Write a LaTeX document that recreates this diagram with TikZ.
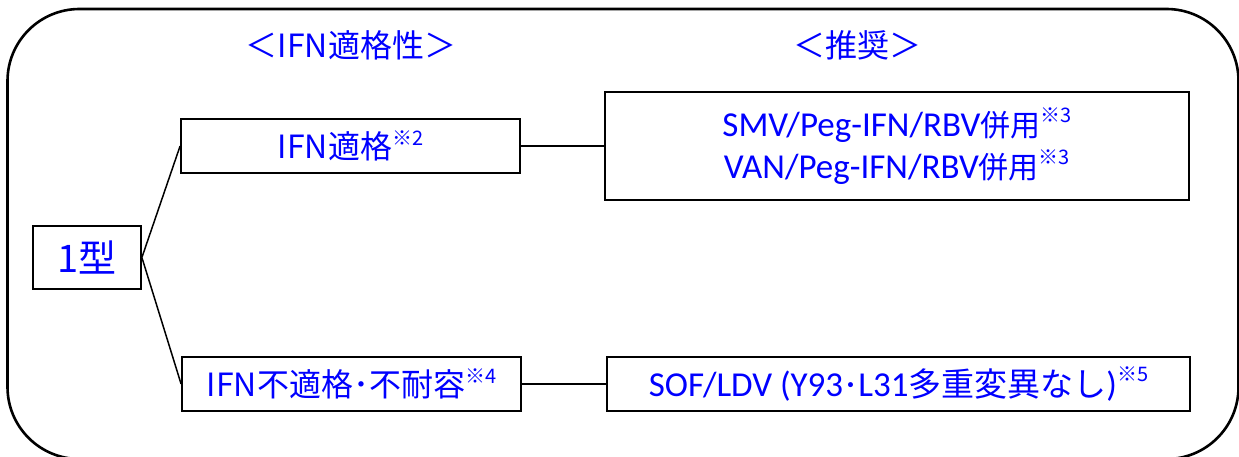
\documentclass[tikz,border=0pt]{standalone}
\usepackage{fontspec}
\setmainfont{Carlito}
\newfontfamily\jp{Noto Sans CJK JP}
\definecolor{txtblue}{RGB}{0,0,255}
\newcommand{\sups}[1]{\raisebox{0.42em}{\jp\fontsize{20}{20}\selectfont ※#1}}
\tikzset{
  box/.style={draw=black, line width=1.8pt, fill=white, inner sep=0pt, text=txtblue, align=center},
  head/.style={inner sep=0pt, text=txtblue, font=\jp\fontsize{32}{32}\selectfont},
  conn/.style={draw=black, line width=1.5pt}
}
\begin{document}
\begin{tikzpicture}[x=1pt,y=-1pt]
\useasboundingbox (0,0) rectangle (1239,457);
\draw[line width=2.6pt, rounded corners=72pt] (7.5,9) rectangle (1238.5,459);
\node[head] (h1) at (351,45) {＜IFN適格性＞};
\node[head] (h2) at (857,45) {＜推奨＞};
\node[box, minimum width=108pt, minimum height=63pt, font=\jp\fontsize{38}{38}\selectfont] (t1) at (87,257.5) {1型};
\node[box, minimum width=339pt, minimum height=54pt, font=\jp\fontsize{32}{32}\selectfont] (ok) at (350.5,146) {IFN適格\sups{2}};
\node[box, minimum width=339pt, minimum height=54pt, font=\jp\fontsize{32}{32}\selectfont] (ng) at (351.5,384) {IFN不適格･不耐容\sups{4}};
\node[box, minimum width=584pt, minimum height=108pt, font=\fontsize{35}{42}\selectfont] (r1) at (897,146)
  {SMV/Peg-IFN/RBV{\jp\fontsize{30}{30}\selectfont 併用}\sups{3}\\[0pt]VAN/Peg-IFN/RBV{\jp\fontsize{30}{30}\selectfont 併用}\sups{3}};
\node[box, minimum width=583pt, minimum height=54pt, font=\fontsize{35}{42}\selectfont] (r2) at (898.5,384)
  {SOF/LDV (Y93{\jp\fontsize{30}{30}\selectfont ･}L31{\jp\fontsize{33}{33}\selectfont 多重変異なし})\sups{5}};
\draw[conn] (t1.east) -- (ok.west);
\draw[conn] (t1.east) -- (ng.west);
\draw[conn] (ok.east) -- (r1.west |- ok.east);
\draw[conn] (ng.east) -- (r2.west);
\end{tikzpicture}
\end{document}
